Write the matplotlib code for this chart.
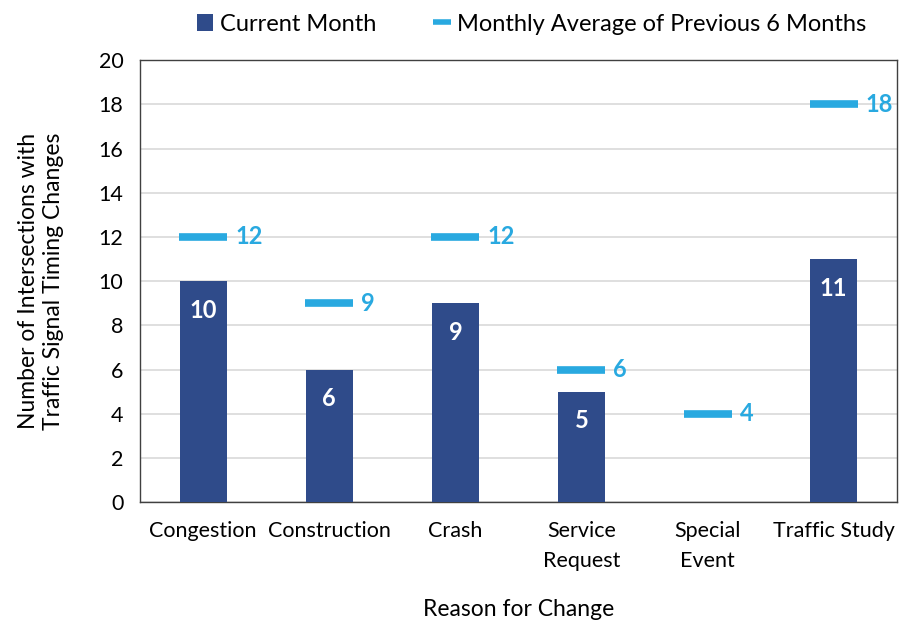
import matplotlib
matplotlib.use("Agg")
import matplotlib.pyplot as plt
from matplotlib.lines import Line2D
from matplotlib.patches import Patch

# Data
categories = ["Congestion", "Construction", "Crash", "Service\nRequest", "Special\nEvent", "Traffic Study"]
current_month = [10, 6, 9, 5, None, 11]
prev_avg = [12, 9, 12, 6, 4, 18]

BAR_COLOR = "#2F4B8A"
AVG_COLOR = "#29A9E0"

plt.rcParams["font.family"] = ["Lato", "DejaVu Sans"]

fig = plt.figure(figsize=(9.04, 6.28), dpi=100)
ax = fig.add_axes([0.155, 0.2006, 0.837, 0.7034])

x = list(range(len(categories)))
for i, v in enumerate(current_month):
    if v is None:
        continue
    ax.bar(i, v, width=0.37, color=BAR_COLOR, zorder=3)
    ax.annotate(str(v), (i, v), xytext=(0, -21), textcoords="offset points",
                ha="center", va="center", color="white", fontsize=17, fontweight="bold", zorder=4)

ax.plot(x, prev_avg, linestyle="none", marker="_", markersize=35, markeredgewidth=5.5,
        color=AVG_COLOR, zorder=4)
for i, v in enumerate(prev_avg):
    ax.annotate(str(v), (i, v), xytext=(23, 0), textcoords="offset points",
                ha="left", va="center", color=AVG_COLOR, fontsize=17, fontweight="bold")

ax.set_ylim(0, 20)
ax.set_yticks(range(0, 21, 2))
ax.set_xlim(-0.5, len(categories) - 0.5)
ax.set_xticks(x)
ax.set_xticklabels(categories, fontsize=15.5, linespacing=1.6)
ax.tick_params(axis="y", labelsize=15.5, length=0, pad=12)
ax.tick_params(axis="x", length=0, pad=14)
ax.grid(axis="y", color="#D9D9D9", linewidth=1.2, zorder=0)
for s in ax.spines.values():
    s.set_color("#404040")
    s.set_linewidth(1.0)

ax.set_ylabel("Number of Intersections with\nTraffic Signal Timing Changes", fontsize=16.5,
              labelpad=25, linespacing=1.2)
ax.set_xlabel("Reason for Change", fontsize=16.5, labelpad=20)

handles = [
    Patch(facecolor=BAR_COLOR, label="Current Month"),
    Line2D([], [], color=AVG_COLOR, marker="_", linestyle="none", markersize=13,
           markeredgewidth=4, label="Monthly Average of Previous 6 Months"),
]
fig.legend(handles=handles, loc="upper center", bbox_to_anchor=(0.588, 1.012), ncol=2,
           frameon=False, fontsize=17, handlelength=0.7, handletextpad=0.3, columnspacing=2.4)

fig.savefig("out.png", dpi=100)
